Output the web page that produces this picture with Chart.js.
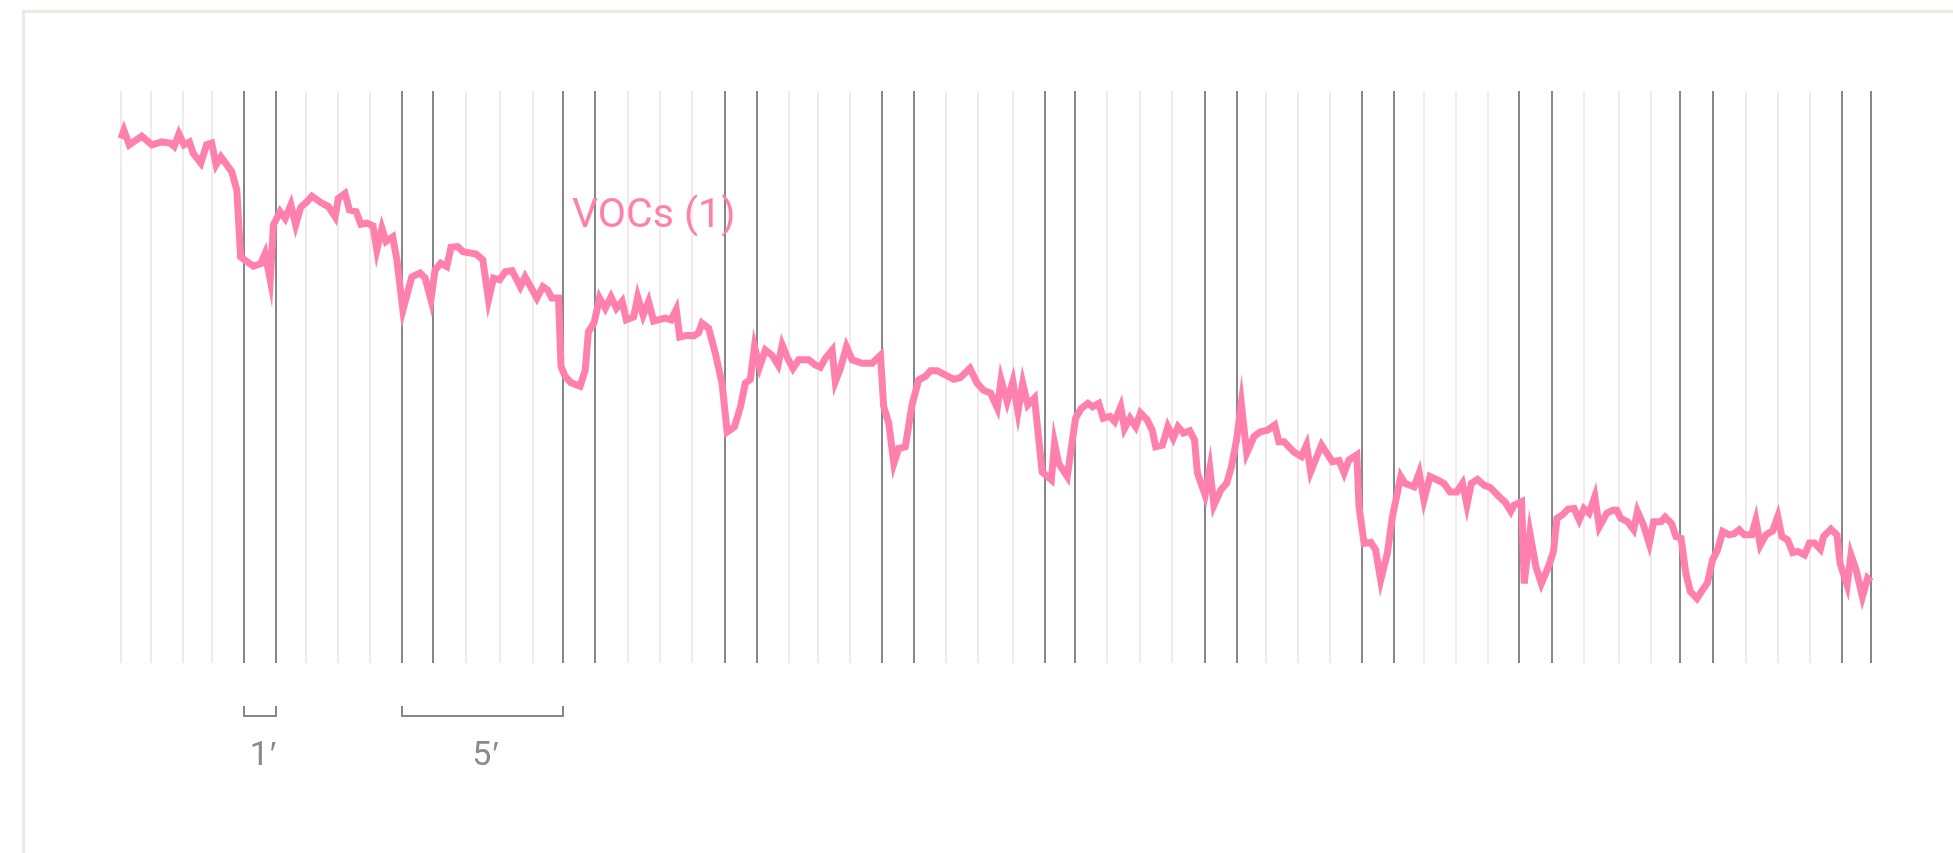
<!DOCTYPE html>
<html><head><meta charset="utf-8">
<script src="https://cdn.jsdelivr.net/npm/chart.js@4.4.1/dist/chart.umd.min.js"></script>
<style>
html,body{margin:0;padding:0;background:#fff;overflow:hidden;}
#wrap{position:relative;width:1953px;height:853px;overflow:hidden;}
#frame{position:absolute;left:22px;top:10px;width:2000px;height:900px;border-top:3.5px solid #efe9e3;border-left:3.5px solid #efe9e3;box-sizing:border-box;}
canvas{position:absolute;left:0;top:0;}
.lbl{position:absolute;font-family:Roboto,"Liberation Sans",sans-serif;font-weight:400;white-space:nowrap;}
#series{left:572px;top:192px;font-size:41px;line-height:42px;color:rgb(255,128,172);}
.bar{top:736px;font-size:34px;line-height:34px;color:#8a8a8a;transform:translateX(-50%);}
.bar .p{font-family:"Liberation Sans",sans-serif;margin-left:1px;}
</style></head><body>
<div id="wrap"><div id="frame"></div><canvas id="c" width="1953" height="853"></canvas>
<div id="series" class="lbl">VOCs (1)</div>
<div id="bar0" class="lbl bar"></div><div id="bar1" class="lbl bar"></div></div>
<script>
const seriesLabel = "VOCs (1)";
// elapsed time (min) of each sample
const minutes = [0,0.09,0.26,0.65,0.97,1.28,1.54,1.67,1.82,1.98,
2.15,2.27,2.51,2.69,2.85,2.99,3.14,3.48,3.64,3.76,
3.95,4.16,4.39,4.53,4.69,4.79,5.00,5.16,5.34,5.49,
5.65,5.82,6.00,6.28,6.52,6.73,6.83,7.04,7.18,7.39,
7.54,7.73,7.92,8.04,8.20,8.33,8.54,8.67,8.86,9.14,
9.40,9.56,9.74,9.87,10.05,10.24,10.37,10.58,10.75,11.16,
11.37,11.55,11.71,11.90,12.08,12.29,12.55,12.70,13.07,13.26,
13.41,13.54,13.75,
13.83,13.96,14.14,14.43,14.59,14.69,14.87,15.04,15.22,15.40,15.57,15.75,15.88,16.11,16.24,16.41,16.58,16.74,17.11,17.29,17.45,17.56,17.79,18.00,18.15,18.26,18.47,18.68,18.89,19.05,19.28,19.47,19.62,19.78,19.91,20.07,20.25,20.46,20.65,20.78,20.95,21.12,21.30,21.61,21.82,21.98,22.14,22.35,22.45,22.61,22.80,22.98,23.29,23.61,23.87,23.97,24.13,24.29,24.44,24.65,24.86,25.07,25.28,25.44,25.65,25.86,26.17,26.38,26.68,26.91,27.10,27.33,27.54,
27.66,27.85,28.03,28.19,28.34,28.50,28.71,28.95,29.24,29.34,29.47,29.74,30.00,30.18,30.39,30.53,30.73,30.87,31.08,31.23,31.42,31.54,31.71,31.89,32.04,32.25,32.41,32.52,32.73,32.90,33.07,33.22,33.39,33.59,33.74,33.83,34.07,34.22,34.35,34.56,34.75,34.90,35.06,35.21,35.38,35.61,35.80,36.03,36.26,36.39,36.55,36.86,37.10,37.26,37.39,37.73,38.07,38.28,38.44,38.59,38.84,38.91,39.07,39.28,39.43,39.59,39.80,39.96,40.22,40.35,40.64,40.80,40.95,41.14,
41.37,41.58,41.77,41.98,42.16,42.30,42.44,42.63,42.84,43.03,43.36,43.49,43.68,43.78,44.02,44.10,44.28,44.47,44.64,44.88,45.02,45.13,45.30,45.48,45.67,45.83,45.98,46.14,46.32,46.46,46.70,46.88,47.01,47.14,47.35,47.54,47.66,47.85,48.03,48.17,48.40,48.53,48.73,48.87,49.03,49.18,49.32,49.53,49.71,49.86,50.02,50.18,50.34,50.54,50.70,50.86,51.02,51.25,51.38,51.52,51.70,51.91,52.07,52.20,52.38,52.54,52.70,52.91,53.07,53.22,53.41,53.51,53.74,53.93,54.03,54.25,54.37,54.53,54.73,54.89,55.00];
// VOC level of each sample
const vocs = [91.7,93.1,90.6,92.1,90.6,91.1,90.9,90.3,92.5,90.6,
91.1,89.1,87.4,90.6,90.9,87.1,88.5,85.9,82.7,71.0,
70.2,69.4,69.8,71.6,67.0,76.6,78.9,77.7,80.1,76.6,
79.7,80.5,81.6,80.5,79.8,78.0,81.2,82.1,79.2,78.9,
76.7,76.9,76.4,72.2,76.0,73.7,74.5,70.5,61.7,67.5,
68.2,67.3,63.5,68.7,69.9,69.3,72.7,72.8,71.9,71.5,
70.5,63.5,67.3,67.0,68.4,68.6,65.8,67.5,63.8,65.8,
65.2,63.8,63.8,
51.8,50.1,49.0,48.4,51.2,57.9,59.5,63.8,62.0,64.0,62.0,63.2,60.0,60.5,64.0,60.8,63.2,59.8,60.3,60.0,61.8,57.0,57.3,57.2,57.7,59.4,58.5,54.1,48.9,40.4,41.3,44.8,48.9,49.6,55.3,51.8,54.7,53.8,52.1,55.6,53.3,51.5,53.0,53.0,52.1,51.7,53.3,54.7,49.2,51.5,55.3,53.0,52.4,52.4,53.8,44.8,41.9,34.9,37.5,37.8,45.1,49.5,50.1,51.1,51.1,50.5,49.6,49.9,51.5,48.9,47.7,47.2,44.6,
49.5,45.7,49.2,43.9,48.9,45.1,46.3,33.4,32.0,38.4,34.9,32.6,42.8,44.5,45.4,44.8,45.4,42.8,43.1,42.2,44.8,41.0,42.8,41.3,43.7,42.5,40.7,37.8,38.1,41.3,39.3,41.3,40.2,40.6,39.0,33.2,29.4,34.0,27.6,30.2,31.4,34.3,39.0,45.4,36.7,39.6,40.4,40.7,41.6,38.7,38.7,36.9,36.1,38.1,33.4,38.1,35.2,35.4,33.2,35.5,36.4,27.3,20.9,21.1,19.8,14.5,19.2,25.6,32.6,31.4,30.8,33.2,28.5,32.6,
32.0,31.4,29.9,29.9,31.4,27.6,31.4,32.1,31.1,30.7,28.8,28.2,26.5,27.6,28.2,13.9,22.7,16.8,13.9,17.1,19.5,25.3,25.9,26.9,27.0,25.0,27.0,26.2,29.1,23.8,26.2,26.7,26.7,25.3,24.7,23.3,26.5,24.1,20.9,24.7,24.7,25.5,24.4,22.1,21.8,15.7,12.5,11.3,12.8,14.0,18.0,19.8,23.0,22.4,22.6,23.3,22.4,22.4,25.0,20.6,22.4,23.1,25.6,22.1,21.5,19.3,19.5,18.9,21.0,21.0,19.9,22.1,23.4,22.4,17.4,13.6,18.9,16.3,11.6,14.8,14.2];
// clock-minute marks on the elapsed-time axis (vertical rules)
const minuteMarks = [0,0.94,1.95,2.87,3.88,4.87,5.81,6.81,7.81,8.83,
9.82,10.85,11.92,12.95,13.88,14.89,15.92,16.93,17.96,18.98,
19.98,20.99,21.92,22.91,23.92,24.92,25.93,26.94,28.02,29.04,
29.97,31.00,32.02,33.03,34.06,35.07,35.98,36.99,38.00,39.01,
40.01,40.94,41.95,42.96,43.95,44.96,45.97,47.07,48.08,49.01,
50.03,51.06,52.07,53.08,54.10,55.00];
const timeMin = 0, timeMax = 55, vocMin = 0, vocMax = 100;
// scale bars: from/to minute-mark index
const scaleBarFrom = [4, 9];
const scaleBarTo = [5, 14];
const scaleBarDigits = ["1", "5"];
const primeMark = "\u2032";

const PINK = 'rgb(255,128,172)';
const DARK = '#85878a';
const LIGHT = '#f0ebe6';
function isMajor(i){ return i > 0 && (i % 5 === 0 || i % 5 === 4); }

const barsPlugin = {
  id: 'bars',
  afterDraw(chart){
    const {ctx, chartArea, scales:{x}} = chart;
    ctx.save();
    ctx.strokeStyle = DARK; ctx.lineWidth = 2;
    scaleBarFrom.forEach((f,i)=>{
      const a = Math.round(x.getPixelForValue(minuteMarks[f])), b = Math.round(x.getPixelForValue(minuteMarks[scaleBarTo[i]]));
      const top = chartArea.bottom + 43, base = chartArea.bottom + 53;
      ctx.beginPath(); ctx.moveTo(a, top); ctx.lineTo(a, base); ctx.lineTo(b, base); ctx.lineTo(b, top); ctx.stroke();
      const el = document.getElementById('bar'+i);
      el.innerHTML = '';
      el.appendChild(document.createTextNode(scaleBarDigits[i]));
      const p = document.createElement('span'); p.className = 'p'; p.textContent = primeMark; el.appendChild(p);
      el.style.left = ((a+b)/2 + 3) + 'px';
    });
    ctx.restore();
  }
};

new Chart(document.getElementById('c'), {
  type: 'line',
  data: { datasets: [{
    label: seriesLabel,
    data: minutes.map((m,i)=>({x:m, y:vocs[i]})),
    borderColor: PINK, backgroundColor: PINK,
    borderWidth: 7, pointRadius: 0, tension: 0, clip: 12,
    borderJoinStyle: 'miter'
  }]},
  options: {
    responsive: false, animation: false, devicePixelRatio: 1,
    layout: { padding: { left: 121, right: 82, top: 91, bottom: 190 } },
    plugins: { legend: { display: false }, tooltip: { enabled: false } },
    scales: {
      x: { type: 'linear', min: timeMin, max: timeMax,
        afterBuildTicks: axis => { axis.ticks = minuteMarks.map(v => ({ value: v })); },
        ticks: { display: false, autoSkip: false },
        grid: { drawTicks: false,
          color: c => isMajor(c.index) ? DARK : LIGHT,
          lineWidth: 2 },
        border: { display: false } },
      y: { min: vocMin, max: vocMax, display: false }
    }
  },
  plugins: [barsPlugin]
});
</script>
</body></html>
